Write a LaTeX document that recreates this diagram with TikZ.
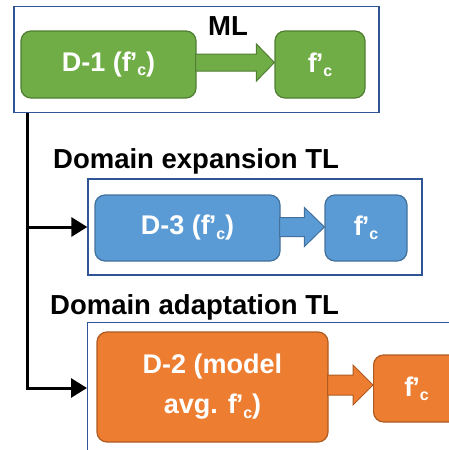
\documentclass[tikz,border=0pt]{standalone}
\usepackage{fontspec}
\setmainfont{Liberation Sans}
\usetikzlibrary{arrows.meta,calc}

\definecolor{grnfill}{HTML}{70AD47}
\definecolor{grnline}{HTML}{507E32}
\definecolor{bluefill}{HTML}{5B9BD5}
\definecolor{blueline}{HTML}{41719C}
\definecolor{orgfill}{HTML}{ED7D31}
\definecolor{orgline}{HTML}{AE5A21}
\definecolor{framecol}{HTML}{2F5597}

% f'_c as printed in the boxes
\newcommand\fcsym{f\kern-1pt’\raisebox{-0.3ex}{\fontsize{16}{16}\selectfont c}}

\tikzset{
  framebox/.style={draw=framecol, line width=1.3pt, inner sep=0pt},
  databox/.style={rounded corners=10pt, line width=1.2pt, inner sep=0pt,
    text=white, align=center, font=\bfseries\fontsize{27}{40}\selectfont},
  heading/.style={inner sep=0pt, font=\bfseries\fontsize{27.5}{30}\selectfont},
  branch/.style={line width=3pt, -{Triangle[length=16pt,width=19pt]}}
}

% block arrow between two boxes: #1 fill, #2 line, #3 start, #4 end,
% #5 shaft half-height, #6 head half-height, #7 head length
\newcommand\blockarrow[7]{%
  \path let \p1=(#3), \p2=(#4) in
    [fill=#1, draw=#2, line width=1pt, line join=miter]
    (\x1,\y1-#5) -- (\x2-#7,\y1-#5) -- (\x2-#7,\y1-#6) -- (\x2,\y1)
    -- (\x2-#7,\y1+#6) -- (\x2-#7,\y1+#5) -- (\x1,\y1+#5) -- cycle;}

\begin{document}
\begin{tikzpicture}[x=1pt,y=-1pt]
\useasboundingbox (0,0) rectangle (449,450);
\clip (0,0) rectangle (449,450);

% frames round each pair of boxes
\node[framebox, minimum width=365pt, minimum height=106pt] (mlframe) at (196.5,59.5) {};
\node[framebox, minimum width=334pt, minimum height=96pt] (expframe) at (255,227) {};
\node[framebox, minimum width=380pt, minimum height=160pt, anchor=north west] (adaframe) at (87,322) {};

% headings
\node[heading, anchor=base west] (mltxt) at (208,35) {ML};
\node[heading, anchor=base west] (exptxt) at (53,168) {Domain expansion TL};
\node[heading, anchor=base west] (adatxt) at (50,314) {Domain adaptation TL};

% ML pair
\node[databox, fill=grnfill, draw=grnline, minimum width=175pt, minimum height=67pt] (d1) at (108.5,64.5) {D-1 (\fcsym)};
\node[databox, fill=grnfill, draw=grnline, minimum width=90pt, minimum height=67pt] (o1) at (320,64.5) {\fcsym};
\blockarrow{grnfill}{grnline}{$(d1.east)+(-1,-2)$}{$(o1.west)+(0,-2)$}{8.5}{18.5}{18}

% domain expansion pair
\node[databox, fill=bluefill, draw=blueline, minimum width=185pt, minimum height=66pt] (d3) at (187.5,228) {D-3 (\fcsym)};
\node[databox, fill=bluefill, draw=blueline, minimum width=82pt, minimum height=66pt] (o3) at (366,228) {\fcsym};
\blockarrow{bluefill}{blueline}{$(d3.east)+(-1,-1)$}{$(o3.west)+(0,-1)$}{9.5}{19.5}{20}

% domain adaptation pair
\node[databox, fill=orgfill, draw=orgline, minimum width=231pt, minimum height=110pt] (d2) at (212.5,387) {\raisebox{-3pt}{\parbox{220pt}{\centering D-2 (model\\avg. \fcsym)}}};
\node[databox, fill=orgfill, draw=orgline, minimum width=100pt, minimum height=67pt, anchor=west] (o2) at (373,388.5) {\hspace*{-14pt}\fcsym};
\blockarrow{orgfill}{orgline}{$(d2.east)+(-1,-2)$}{$(o2.west)+(0,-4)$}{10}{20}{20}

% branches from the ML frame to the transfer-learning frames
\coordinate (trunk) at ($(mlframe.south west)+(14,0)$);
\draw[branch] (trunk) |- (expframe.west);
\draw[branch] (trunk) |- ($(adaframe.north west)+(0,66)$);
\end{tikzpicture}
\end{document}
